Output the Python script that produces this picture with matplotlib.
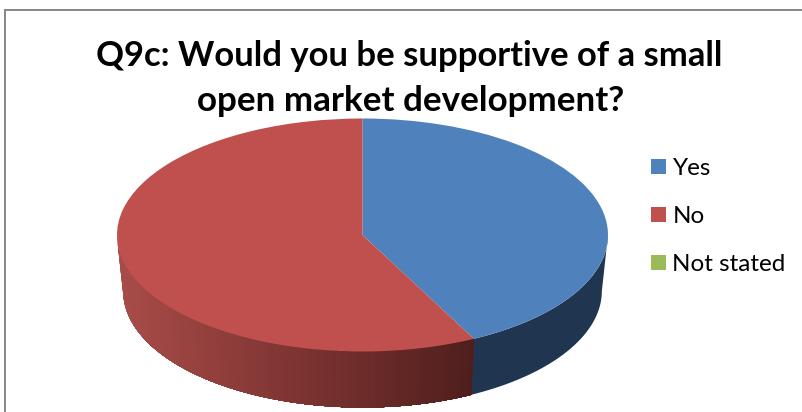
import numpy as np
import matplotlib
matplotlib.use("Agg")
import matplotlib.pyplot as plt
from matplotlib.colors import LinearSegmentedColormap
from matplotlib.lines import Line2D

W, H = 803, 412

categories = ["Yes", "No", "Not stated"]
values = [42.5, 57.5, 0.0]
colors = ["#4F81BD", "#C0504D", "#9BBB59"]
title_lines = ["Q9c: Would you be supportive of a small", "open market development?"]

# Ellipse geometry of the pie's top face, in pixels
CX, CY, RX, RY = 362.5, 235.0, 245.5, 116.5
DEPTH = 56.0 / RY          # wall height in data units
TAPER = 0.975              # lower rim is slightly narrower

plt.rcParams["font.family"] = ["Lato", "DejaVu Sans"]

fig = plt.figure(figsize=(W / 100, H / 100), dpi=100, facecolor="white")

# One data unit equals the pie radius on each axis
ax = fig.add_axes([(CX - RX * 1.2) / W, 1 - (CY + RY * 1.6) / H,
                   RX * 2.4 / W, RY * 3.2 / H])
wedges, _ = ax.pie(values, colors=colors, startangle=90, counterclock=False,
                   radius=1.0, wedgeprops={"linewidth": 0, "zorder": 5})
ax.set_aspect("auto")
ax.set_xlim(-1.2, 1.2)
ax.set_ylim(-1.6, 1.6)
ax.axis("off")

red_side = LinearSegmentedColormap.from_list(
    "red_side", [(0.0, "#A84C49"), (0.5, "#7E3432"), (1.0, "#4F1F1D")])
blue_side = "#1F3550"
edges = np.cumsum([0.0] + values) / sum(values) * 360.0
split = edges[1]


def wall(a_from, a_to, face, zorder):
    """Fill the side wall between two rim angles, measured clockwise from the top."""
    th = np.radians(np.linspace(a_from, a_to, 60))
    xs_top, ys_top = np.sin(th), np.cos(th)
    xs_bot, ys_bot = TAPER * np.sin(th), np.cos(th) - DEPTH
    ax.fill(np.r_[xs_top, xs_bot[::-1]], np.r_[ys_top, ys_bot[::-1]],
            facecolor=face, edgecolor="none", zorder=zorder)


# Blue slice wall is flat; the red wall darkens toward the right
wall(90.0, split, blue_side, 2)
x_left, x_right = -1.0, np.sin(np.radians(split))
strips = np.arange(270.0, split, -1.0)
for i, a in enumerate(strips):
    mid = a - 0.5
    frac = np.clip((np.sin(np.radians(mid)) - x_left) / (x_right - x_left), 0, 1)
    # Each strip runs on to the slice edge and is overpainted by the next one
    wall(a, split, red_side(frac), 3 + i * 1e-3)

# Chart area frame, open at the bottom
frame = dict(color="#868686", lw=1.4, transform=fig.transFigure, clip_on=False)
x0, y0 = 5.5 / W, 1 - 9.5 / H
fig.add_artist(Line2D([x0, x0], [0, y0], **frame))
fig.add_artist(Line2D([x0, 1], [y0, y0], **frame))

fig.text(409.5 / W, 1 - 65.5 / H, title_lines[0], ha="center", va="baseline",
         fontsize=24.9, fontweight="bold", color="black")
fig.text(410.5 / W, 1 - 111 / H, title_lines[1], ha="center", va="baseline",
         fontsize=25.2, fontweight="bold", color="black")

fs = 17.5
em = fs * 100 / 72
leg = fig.legend(wedges, categories, loc="center left",
                 bbox_to_anchor=(651 / W, 1 - 216.5 / H), frameon=False,
                 fontsize=fs, handlelength=15 / em, handleheight=15 / em,
                 handletextpad=6.5 / em, labelspacing=(50 - 0.95 * em) / em,
                 borderpad=0, borderaxespad=0)

fig.savefig("out.png", dpi=100, facecolor="white")
